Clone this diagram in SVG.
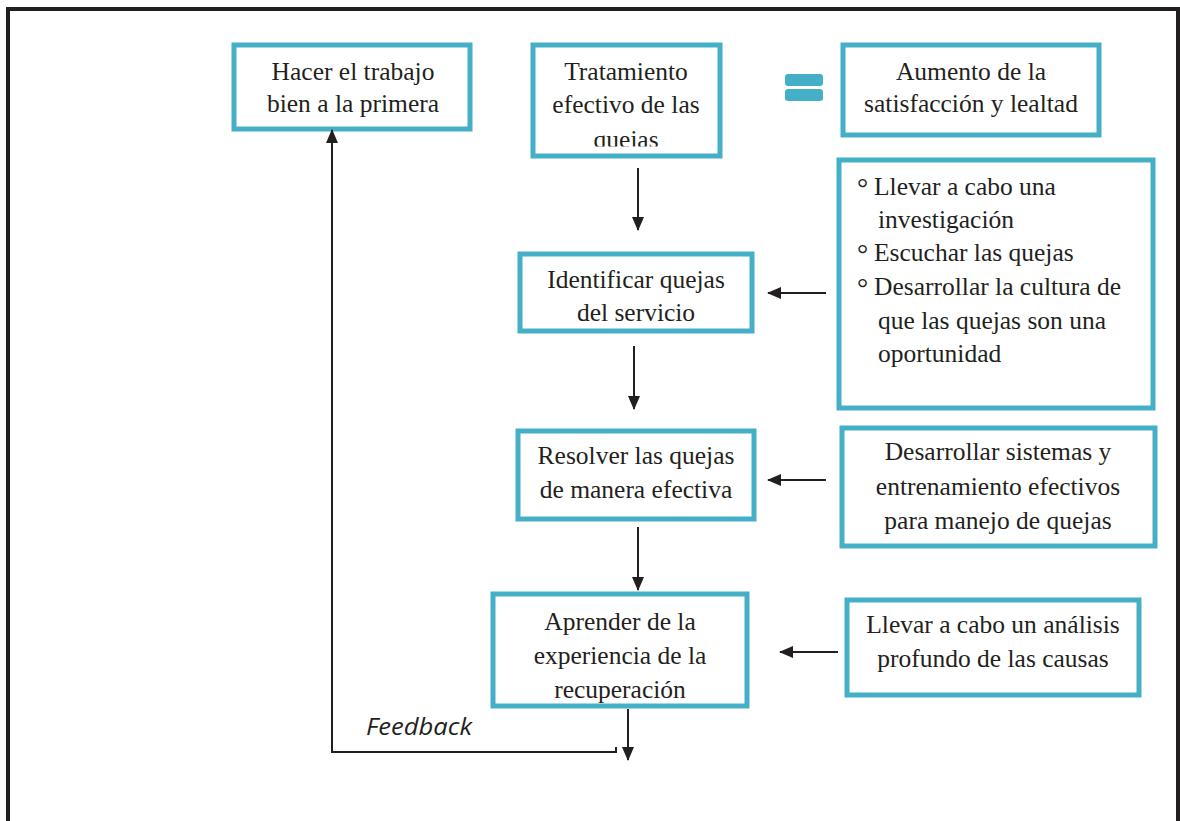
<svg xmlns="http://www.w3.org/2000/svg" width="1180" height="821" viewBox="0 0 1180 821">
<defs>
<marker id="ah" viewBox="0 0 14 12" refX="13" refY="6" markerWidth="14" markerHeight="12" markerUnits="userSpaceOnUse" orient="auto">
<path d="M0,0 L14,6 L0,12 Z" fill="#231f20"/>
</marker>
<clipPath id="clipq"><rect x="533" y="45" width="187" height="101.5"/></clipPath>
</defs>
<style>
.box{fill:#fff;stroke:#45afc8;stroke-width:5}
.t{font-family:"Liberation Serif","Times New Roman",serif;font-size:25.5px;fill:#231f20;text-anchor:middle}
.tl{font-family:"Liberation Serif","Times New Roman",serif;font-size:25.5px;fill:#231f20}
.b{font-family:"Liberation Serif","Times New Roman",serif;font-size:28px;fill:#231f20}
.c{fill:none;stroke:#231f20;stroke-width:2}
.eq{fill:#45afc8}
</style>
<rect width="1180" height="821" fill="#fff"/>
<path d="M8,821 V9 H1178 V821" fill="none" stroke="#231f20" stroke-width="4"/>
<g id="hacer"><rect class="box" x="234" y="45" width="236" height="84"/>
<text class="t" x="353" y="80">Hacer el trabajo</text><text class="t" x="353" y="112">bien a la primera</text></g>
<g id="tratamiento"><rect class="box" x="533" y="45" width="187" height="111"/>
<text class="t" x="626" y="80">Tratamiento</text><text class="t" x="626" y="113">efectivo de las</text><text class="t" x="626" y="148" clip-path="url(#clipq)">quejas</text></g>
<g id="igual"><rect class="eq" x="785" y="74" width="38" height="12" rx="3"/><rect class="eq" x="785" y="89" width="38" height="12" rx="3"/></g>
<g id="aumento"><rect class="box" x="843" y="45" width="256" height="90"/>
<text class="t" x="971" y="80">Aumento de la</text><text class="t" x="971" y="112">satisfacción y lealtad</text></g>
<g id="acciones"><rect class="box" x="839" y="160" width="314" height="248"/>
<text class="b" x="857" y="197">°</text><text class="tl" x="874" y="195">Llevar a cabo una</text>
<text class="tl" x="878" y="228">investigación</text>
<text class="b" x="857" y="263">°</text><text class="tl" x="874" y="261">Escuchar las quejas</text>
<text class="b" x="857" y="297">°</text><text class="tl" x="874" y="295">Desarrollar la cultura de</text>
<text class="tl" x="878" y="329">que las quejas son una</text>
<text class="tl" x="878" y="362">oportunidad</text></g>
<g id="identificar"><rect class="box" x="520" y="254" width="232" height="77"/>
<text class="t" x="636" y="288">Identificar quejas</text><text class="t" x="636" y="321">del servicio</text></g>
<g id="resolver"><rect class="box" x="518" y="431" width="236" height="88"/>
<text class="t" x="636" y="464">Resolver las quejas</text><text class="t" x="636" y="498">de manera efectiva</text></g>
<g id="desarrollar"><rect class="box" x="842" y="428" width="313" height="118"/>
<text class="t" x="998" y="460">Desarrollar sistemas y</text><text class="t" x="998" y="495">entrenamiento efectivos</text><text class="t" x="998" y="529">para manejo de quejas</text></g>
<g id="aprender"><rect class="box" x="493" y="594" width="254" height="112"/>
<text class="t" x="620" y="630">Aprender de la</text><text class="t" x="620" y="664">experiencia de la</text><text class="t" x="620" y="698">recuperación</text></g>
<g id="analisis"><rect class="box" x="847" y="600" width="292" height="95"/>
<text class="t" x="993" y="633">Llevar a cabo un análisis</text><text class="t" x="993" y="667">profundo de las causas</text></g>
<g id="conectores">
<line class="c" x1="638" y1="168" x2="638" y2="230" marker-end="url(#ah)"/>
<line class="c" x1="634" y1="346" x2="634" y2="409" marker-end="url(#ah)"/>
<line class="c" x1="638" y1="527" x2="638" y2="590" marker-end="url(#ah)"/>
<line class="c" x1="826" y1="293" x2="768" y2="293" marker-end="url(#ah)"/>
<line class="c" x1="826" y1="480" x2="768" y2="480" marker-end="url(#ah)"/>
<line class="c" x1="838" y1="652" x2="780" y2="652" marker-end="url(#ah)"/>
<line class="c" x1="628" y1="709" x2="628" y2="760" marker-end="url(#ah)"/>
<path class="c" d="M616,747 V752 H332 V130" marker-end="url(#ah)"/>
<text x="366" y="735" font-family="'Open Sans','DejaVu Sans',sans-serif" font-style="italic" font-size="23" fill="#231f20" textLength="106" lengthAdjust="spacingAndGlyphs">Feedback</text>
</g>
</svg>
